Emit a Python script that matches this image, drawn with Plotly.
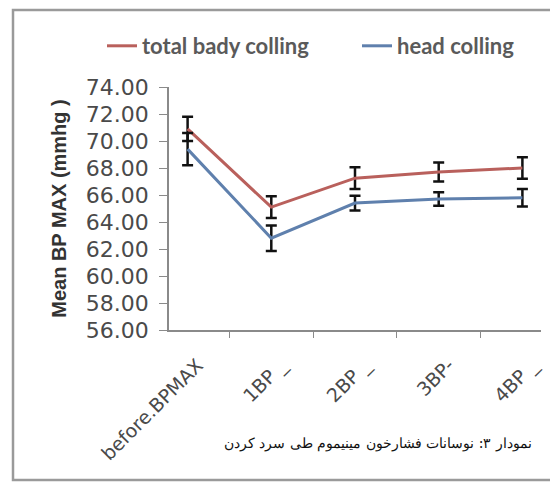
import plotly.graph_objects as go

categories = ["before.BPMAX", "1BP _", "2BP _", "3BP-", "4BP _"]
total_body = [70.9, 65.1, 67.25, 67.7, 68.0]
total_body_err = [0.9, 0.8, 0.8, 0.7, 0.8]
head = [69.4, 62.8, 65.4, 65.7, 65.8]
head_err = [1.2, 0.95, 0.55, 0.5, 0.65]
series_names = ["total bady colling", "head colling"]
y_ticks = [56, 58, 60, 62, 64, 66, 68, 70, 72, 74]

RED = "#b9605c"
BLUE = "#5f80ad"

W, H = 550, 476  # page body has an 8px margin
L, R, T, B = 161, 17, 79, 154
PW, PH = W - L - R, H - T - B

fig = go.Figure()
for i, (name, vals, errs, col) in enumerate([
    (series_names[0], total_body, total_body_err, RED),
    (series_names[1], head, head_err, BLUE),
]):
    fig.add_trace(go.Scatter(
        x=categories, y=vals, name=name, mode="lines",
        line=dict(color=col, width=3),
        error_y=dict(type="data", array=errs, visible=True,
                     color="#111111", thickness=2.5, width=5.5),
        legend="legend" if i == 0 else "legend2",
    ))

legend_font = dict(family="Lato, sans-serif", size=22, color="#5a5a5a", weight="bold")
fig.update_layout(
    width=W, height=H,
    margin=dict(l=L, r=R, t=T, b=B, autoexpand=False),
    paper_bgcolor="white", plot_bgcolor="white",
    font=dict(family="DejaVu Sans, sans-serif", color="#444444"),
    showlegend=True,
    legend=dict(
        orientation="h", xref="container", yref="container",
        x=94 / W, xanchor="left", y=1 - 38 / H, yanchor="middle",
        font=legend_font, bgcolor="rgba(0,0,0,0)",
    ),
    legend2=dict(
        orientation="h", xref="container", yref="container",
        x=349 / W, xanchor="left", y=1 - 38 / H, yanchor="middle",
        font=legend_font, bgcolor="rgba(0,0,0,0)",
    ),
    xaxis=dict(
        type="category", showgrid=False, showline=True, linecolor="#8a8a8a", linewidth=1.5,
        ticks="outside", tickson="boundaries", ticklen=6, tickcolor="#8a8a8a",
        tickangle=-45, tickfont=dict(size=19, color="#4a4a4a"),
        ticklabelstandoff=15, ticklabelshift=10, automargin=False,
    ),
    yaxis=dict(
        range=[56, 74], tickvals=y_ticks, ticktext=[f"{v:.2f}" for v in y_ticks],
        showgrid=False, showline=True, linecolor="#8a8a8a", linewidth=1.5,
        ticks="outside", ticklen=8, tickcolor="#8a8a8a", zeroline=False,
        tickfont=dict(size=22, color="#4a4a4a"), ticklabelstandoff=6,
        automargin=False,
        title=dict(text="<b>Mean BP MAX (mmhg )</b>",
                   font=dict(family="Liberation Sans, Arial, sans-serif", size=20, color="#333333"),
                   standoff=14),
    ),
    shapes=[dict(type="rect", xref="paper", yref="paper",
                 x0=(5 - L) / PW, x1=(544 - L) / PW,
                 y0=(T + PH - 472) / PH, y1=(T + PH - 2) / PH,
                 line=dict(color="#9a9a9a", width=2.5), layer="below")],
    annotations=[dict(
        text="نمودار ۳: نوسانات فشارخون مینیموم طی سرد کردن",
        xref="paper", yref="paper", x=(526 - L) / PW, y=(T + PH - 436) / PH,
        xanchor="right", yanchor="middle", showarrow=False,
        font=dict(family="DejaVu Serif, Liberation Serif, serif", size=14, color="#111111"),
    )],
)

fig.write_html("out.html")
